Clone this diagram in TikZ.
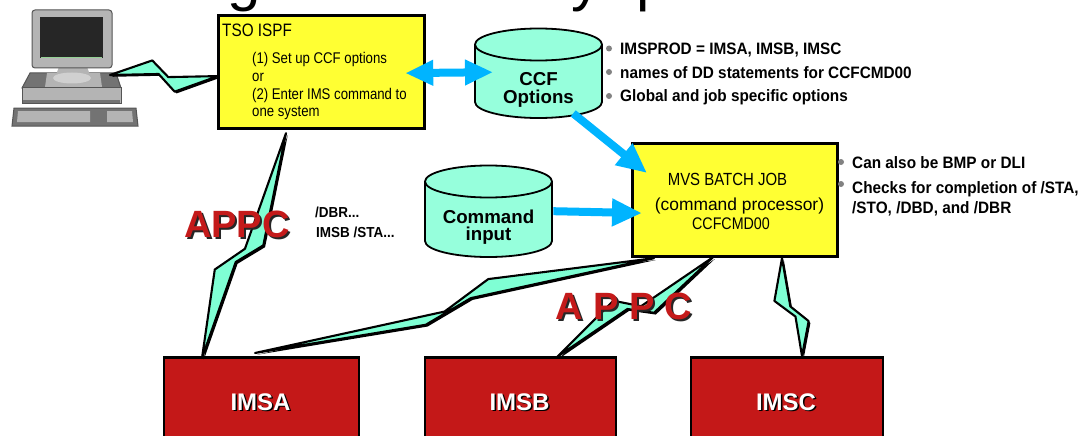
\documentclass[tikz,border=0pt]{standalone}
\usepackage{fontspec}
\setmainfont{Liberation Sans}
\newfontfamily\nreg[FakeStretch=0.85]{Liberation Sans}
\newfontfamily\nbold[FakeStretch=0.93]{Liberation Sans}
\usetikzlibrary{arrows.meta,calc}
\definecolor{boxyellow}{RGB}{255,255,51}
\definecolor{aqua}{RGB}{127,255,212}
\definecolor{cylaqua}{RGB}{150,255,220}
\definecolor{arrowblue}{RGB}{0,180,255}
\definecolor{imsred}{RGB}{196,24,24}
\definecolor{appcred}{RGB}{196,26,26}
\definecolor{bulletgray}{RGB}{130,130,130}
\definecolor{pcdark}{RGB}{85,85,85}
\definecolor{pcmid}{RGB}{115,115,115}
\definecolor{pclight}{RGB}{180,180,180}
\definecolor{pcpale}{RGB}{208,208,208}
\definecolor{pcscreen}{RGB}{38,38,38}
% #1 A, #2 B, #3 u1, #4 w1, #5 u2, #6 w2, #7 n1, #8 n2, #9 inner offset
\newcommand\boltpath[9]{(#1)
    -- ($(#1)!#3!(#2)!#4pt!90:(#2)$)
    -- ($(#1)!#7!(#2)!#9pt!90:(#2)$)
    -- (#2)
    -- ($(#1)!#5!(#2)!#6pt!90:(#2)$)
    -- ($(#1)!#8!(#2)!#9pt!-90:(#2)$)
    -- cycle}
\newcommand\zbolt[9]{%
  \fill[black,line join=round,transform canvas={shift={(1.8pt,-1.8pt)}}] \boltpath{#1}{#2}{#3}{#4}{#5}{#6}{#7}{#8}{#9};
  \draw[boltstyle] \boltpath{#1}{#2}{#3}{#4}{#5}{#6}{#7}{#8}{#9};}
\begin{document}
\begin{tikzpicture}[x=1pt,y=-1pt,
  ybox/.style={draw=black,line width=2.2pt,fill=boxyellow,inner sep=0pt},
  imsbox/.style={draw=black,line width=2pt,fill=imsred,inner sep=0pt},
  boltstyle/.style={draw=black,fill=aqua,line width=2.1pt,line join=round},
  cylstyle/.style={draw=black,fill=cylaqua,line width=1.8pt,line join=round},
  bluearrow/.style={draw=arrowblue,line width=8pt,-{Triangle[length=30pt,width=26pt]}},
  dblarrow/.style={draw=arrowblue,line width=8pt,{Triangle[length=28pt,width=24pt]}-{Triangle[length=28pt,width=24pt]}},
  lbl/.style={inner sep=0pt,anchor=base west},
  clbl/.style={inner sep=0pt,anchor=base},
  dot/.style={circle,fill=bulletgray,inner sep=0pt,minimum size=6pt},
  tsofont/.style={font={\nreg\fontsize{15.5}{18}\selectfont}},
  bulfont/.style={font={\nbold\bfseries\fontsize{16.5}{19}\selectfont}},
  cylfont/.style={font={\bfseries\fontsize{18.7}{22}\selectfont}},
  appcfont/.style={font={\bfseries\fontsize{38}{40}\selectfont}},
  imsfont/.style={font={\bfseries\fontsize{24}{26}\selectfont}},
  titlefont/.style={font={\fontsize{60}{64}\selectfont}}]
\path[use as bounding box] (0,0) rectangle (1082,436);
\clip (0,0) rectangle (1082,436);
\fill[white] (0,0) rectangle (1082,436);

% title fragments (cut off at the top, as in the reference)
\node[lbl,titlefont] (tg) at (227.5,0) {g};
\node[lbl,titlefont] (ty) at (571,0) {y};
\node[lbl,titlefont] (tp) at (636,0) {p};

% computer
\filldraw[fill=pcmid,draw=pcdark,line width=1pt] (14,108) -- (136,108) -- (138,126) -- (12,126) -- cycle;
\fill[pclight] (18,111) -- (90,111) -- (90,122) -- (17,122) -- cycle;
\fill[pclight] (107,111) -- (132,111) -- (133,122) -- (107,122) -- cycle;
\filldraw[fill=pcmid,draw=pcdark,line width=1pt] (30,73) -- (116,73) -- (121,88) -- (22,88) -- cycle;
\filldraw[fill=pclight,draw=pcdark,line width=1pt] (22,88) rectangle (121,103);
\fill[pcmid] (23,100) rectangle (120,103);
\fill[pclight] (47,73) -- (100,73) -- (102,87) -- (45,87) -- cycle;
\fill[pclight] (60,64) -- (86,64) -- (90,75) -- (56,75) -- cycle;
\fill[pcpale] (72,78) ellipse[x radius=19pt,y radius=5.5pt];
\filldraw[fill=pclight,draw=pcdark,line width=1pt,rounded corners=3pt] (32,10) rectangle (112,68);
\fill[pcscreen] (40,17) rectangle (103,58);
\draw[green!40!gray!60,line width=1pt] (41,57.5) -- (102,57.5);
\coordinate (pcport) at (110,75);

% boxes
\node[ybox,anchor=north west,minimum width=205pt,minimum height=112pt] (tso) at (218,15) {};
\node[ybox,anchor=north west,minimum width=204pt,minimum height=112pt] (mvs) at (632,143) {};
\node[imsbox,anchor=north west,minimum width=195pt,minimum height=100pt] (imsa) at (163,357) {};
\node[imsbox,anchor=north west,minimum width=191pt,minimum height=100pt] (imsb) at (424,357) {};
\node[imsbox,anchor=north west,minimum width=192pt,minimum height=100pt] (imsc) at (690,357) {};

% bolt end points
\coordinate (tsoin) at ($(tso.west)+(0,4)$);
\coordinate (tsoout) at ($(tso.south west)+(68,4)$);
\coordinate (imsaL) at ($(imsa.north west)+(39,1)$);
\coordinate (imsaR) at ($(imsa.north west)+(92,-4)$);
\coordinate (imsbT) at ($(imsb.north west)+(133,0)$);
\coordinate (imscT) at ($(imsc.north west)+(112,-1)$);
\coordinate (mvsA) at ($(mvs.south west)+(22,1)$);
\coordinate (mvsB) at ($(mvs.south west)+(81,0)$);
\coordinate (mvsC) at ($(mvs.south west)+(150,1)$);

% lightning connectors
\zbolt{pcport}{tsoin}{0.39}{15}{0.60}{-16}{0.54}{0.45}{-1.5}
\zbolt{tsoout}{imsaL}{0.471}{18}{0.636}{-19}{0.576}{0.511}{-2}
\zbolt{mvsA}{imsaR}{0.405}{-18}{0.579}{12}{0.527}{0.457}{3.5}
\zbolt{mvsB}{imsbT}{0.43}{15}{0.58}{-17}{0.54}{0.47}{-2.5}
\zbolt{mvsC}{imscT}{0.404}{-16}{0.671}{13.5}{0.6}{0.49}{1.5}

% redraw box borders over bolt ends
\draw[line width=2.2pt] (tso.north west) rectangle (tso.south east);
\draw[line width=2.2pt] (mvs.north west) rectangle (mvs.south east);
\draw[line width=2pt] (imsa.north west) -- (imsa.north east);
\draw[line width=2pt] (imsb.north west) -- (imsb.north east);
\draw[line width=2pt] (imsc.north west) -- (imsc.north east);

% cylinders
\node[anchor=north west,minimum width=127pt,minimum height=90pt,inner sep=0pt] (ccf) at (475,28) {};
\node[anchor=north west,minimum width=127pt,minimum height=92pt,inner sep=0pt] (cmd) at (425,165) {};
\draw[cylstyle] (475,44.5) -- (475,102) arc[start angle=180,end angle=360,x radius=63.5pt,y radius=16pt]
  -- (602,44.5) arc[start angle=0,end angle=180,x radius=63.5pt,y radius=16pt] -- cycle;
\draw[line width=1.8pt] (475,44.5) arc[start angle=180,end angle=360,x radius=63.5pt,y radius=16pt];
\draw[cylstyle] (425,181.5) -- (425,241) arc[start angle=180,end angle=360,x radius=63.5pt,y radius=16pt]
  -- (552,181.5) arc[start angle=0,end angle=180,x radius=63.5pt,y radius=16pt] -- cycle;
\draw[line width=1.8pt] (425,181.5) arc[start angle=180,end angle=360,x radius=63.5pt,y radius=16pt];

% blue arrows
\draw[dblarrow] ($(tso.east)+(-20,1)$) -- ($(ccf.west)+(18,-1)$);
\draw[bluearrow] ($(ccf.south)+(34.5,-5)$) -- ($(mvs.north west)+(15,30)$);
\draw[bluearrow] ($(cmd.east)+(1,0)$) -- ($(mvs.west)+(10,13)$);

% TSO texts
\node[lbl,font={\nreg\fontsize{18}{20}\selectfont}] (tsot) at (222,37) {TSO ISPF};
\node[lbl,tsofont] (tso1) at (252,64) {(1) Set up CCF options};
\node[lbl,tsofont] (tso2) at (252,81.7) {or};
\node[lbl,tsofont] (tso3) at (252,99.4) {(2) Enter IMS command to};
\node[lbl,tsofont] (tso4) at (252,117) {one system};

% cylinder texts
\node[clbl,cylfont] (ccf1) at (538.5,85) {CCF};
\node[clbl,cylfont] (ccf2) at (538.5,103) {Options};
\node[clbl,cylfont] (cmd1) at (488.5,223) {Command};
\node[clbl,cylfont] (cmd2) at (488.5,240) {input};

% MVS texts
\node[clbl,font={\nreg\fontsize{17.6}{20}\selectfont}] (mvs1) at (727.5,185) {MVS BATCH JOB};
\node[clbl,font={\fontsize{17.4}{20}\selectfont}] (mvs2) at (739.5,210) {(command processor)};
\node[clbl,font={\nreg\fontsize{16.8}{20}\selectfont}] (mvs3) at (731,229) {CCFCMD00};

% bullets near CCF options
\node[dot] (d1) at (609,48.5) {};
\node[dot] (d2) at (609,72) {};
\node[dot] (d3) at (609,96) {};
\node[lbl,bulfont] (b1) at (620,55) {IMSPROD = IMSA, IMSB, IMSC};
\node[lbl,bulfont] (b2) at (620,78) {names of DD statements for CCFCMD00};
\node[lbl,bulfont] (b3) at (620,102) {Global and job specific options};

% bullets near MVS
\node[dot] (d4) at (841,162) {};
\node[dot] (d5) at (841,184) {};
\node[lbl,bulfont] (b4) at (852,168) {Can also be BMP or DLI};
\node[lbl,bulfont] (b5) at (852,193) {Checks for completion of /STA,};
\node[lbl,bulfont] (b6) at (852,213.5) {/STO, /DBD, and /DBR};

% command examples
\node[lbl,font={\nbold\bfseries\fontsize{14.5}{17}\selectfont}] (c1) at (315,217) {/DBR...};
\node[lbl,font={\nbold\bfseries\fontsize{14.5}{17}\selectfont}] (c2) at (316,237) {IMSB /STA...};

% APPC labels with shadow
\node[lbl,appcfont,text=black!85] (appcLs) at (186,239) {APPC};
\node[lbl,appcfont,text=appcred] (appcL) at (184,237) {APPC};
\node[lbl,appcfont,text=black!85] (appcRs) at (557,321) {A P P C};
\node[lbl,appcfont,text=appcred] (appcR) at (555,319) {A P P C};

% IMS labels with shadow
\node[clbl,imsfont,text=black] (imsas) at (262,411.5) {IMSA};
\node[clbl,imsfont,text=white] (imsat) at (260.5,410) {IMSA};
\node[clbl,imsfont,text=black] (imsbs) at (521,411.5) {IMSB};
\node[clbl,imsfont,text=white] (imsbt) at (519.5,410) {IMSB};
\node[clbl,imsfont,text=black] (imscs) at (787.5,411.5) {IMSC};
\node[clbl,imsfont,text=white] (imsct) at (786,410) {IMSC};
\end{tikzpicture}
\end{document}
